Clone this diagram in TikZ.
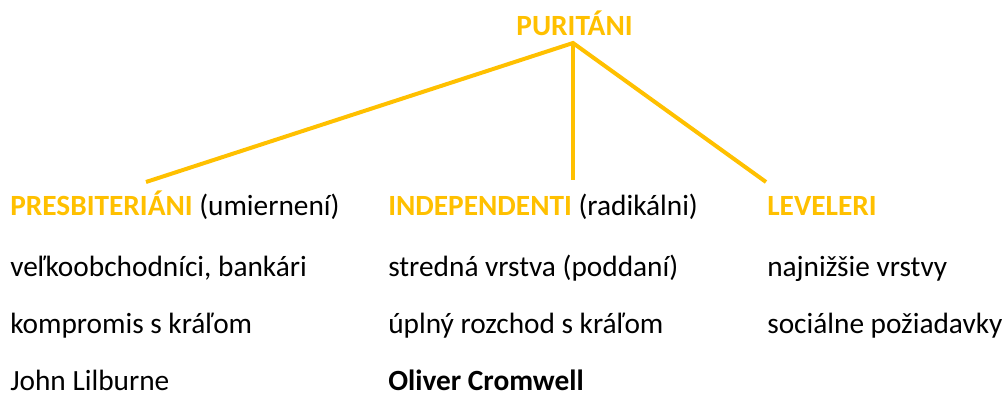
\documentclass[tikz,border=0pt]{standalone}
\usepackage{fontspec}
\setmainfont{Carlito}
\definecolor{gold}{HTML}{FFC000}
\begin{document}
\begin{tikzpicture}[x=0.75pt,y=-0.75pt,
  txt/.style={anchor=base west,inner sep=0pt,font=\fontsize{22}{26}\selectfont,text=black},
  head/.style={txt,text=gold,font=\fontsize{22}{26}\selectfont\bfseries},
  conn/.style={draw=gold,line width=3pt}]
\useasboundingbox (0,0) rectangle (1005,396);
\node[head,anchor=base] (pur) at (574.5,35) {PURITÁNI};
\coordinate (apex) at (573,43);
\node[txt] (presb) at (10,215) {\textcolor{gold}{\bfseries PRESBITERIÁNI} (umiernení)};
\node[txt] (indep) at (388,215) {\textcolor{gold}{\bfseries INDEPENDENTI} (radikálni)};
\node[head] (lev) at (767,215) {LEVELERI};
\coordinate (e1) at (146,182);
\coordinate (e2) at (573,180);
\coordinate (e3) at (766,182);
\draw[conn] (e1) -- (apex) -- (e3);
\draw[conn] (apex) -- (e2);
\node[txt] (a2) at (10,276) {veľkoobchodníci, bankári};
\node[txt] (a3) at (10,333) {kompromis s kráľom};
\node[txt] (a4) at (10,390) {John Lilburne};
\node[txt] (b2) at (388,276) {stredná vrstva (poddaní)};
\node[txt] (b3) at (388,333) {úplný rozchod s kráľom};
\node[txt] (b4) at (388,390) {\bfseries Oliver Cromwell};
\node[txt] (c2) at (767,276) {najnižšie vrstvy};
\node[txt] (c3) at (767,333) {sociálne požiadavky};
\end{tikzpicture}
\end{document}
